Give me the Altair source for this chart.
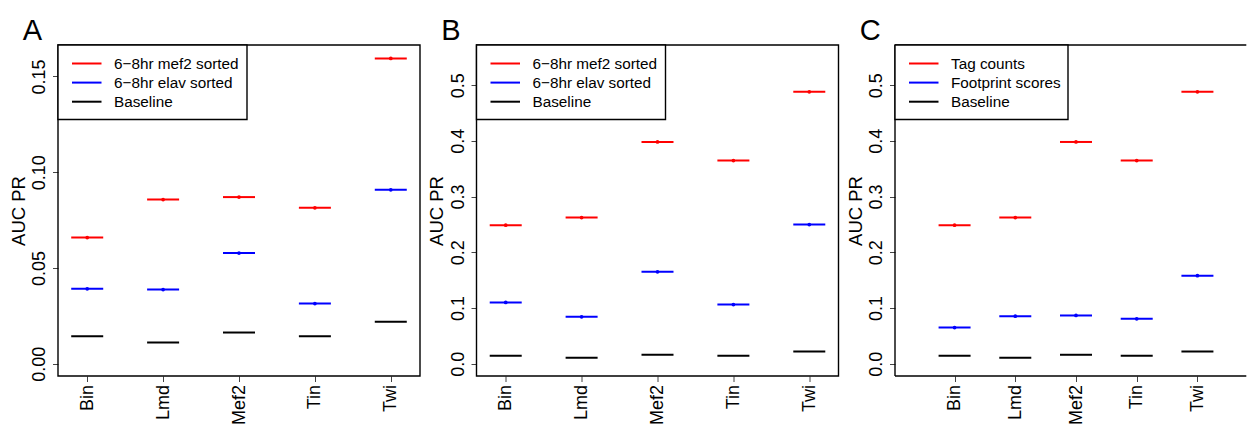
import altair as alt
import pandas as pd

categories = ["Bin", "Lmd", "Mef2", "Tin", "Twi"]

# Panel A
a_mef2 = [0.0659, 0.0857, 0.0870, 0.0814, 0.1594]
a_elav = [0.0391, 0.0387, 0.0578, 0.0314, 0.0908]
a_base = [0.0144, 0.0111, 0.0163, 0.0144, 0.0219]

# Panel B
b_mef2 = [0.2486, 0.2623, 0.3980, 0.3646, 0.4880]
b_elav = [0.1100, 0.0843, 0.1650, 0.1063, 0.2498]
b_base = [0.0143, 0.0108, 0.0161, 0.0143, 0.0220]

# Panel C
c_tag = [0.2486, 0.2623, 0.3980, 0.3646, 0.4880]
c_foot = [0.0650, 0.0854, 0.0866, 0.0807, 0.1580]
c_base = [0.0143, 0.0108, 0.0161, 0.0143, 0.0220]

ab_names = ["6\u22128hr mef2 sorted", "6\u22128hr elav sorted", "Baseline"]
c_names = ["Tag counts", "Footprint scores", "Baseline"]

a_ticks = [0.0, 0.05, 0.10, 0.15]
bc_ticks = [0.0, 0.1, 0.2, 0.3, 0.4, 0.5]

COLORS = ["#ff0000", "#0000ff", "#000000"]
FONT = "Liberation Sans"
W, H = 362, 331          # full panel plot area
W_C = 352                # visible part of the (cropped) right panel
PAD = 0.385
STEP = W / (len(categories) - 1 + 2 * PAD)
BOX_SW = 1.4


def one():
    return pd.DataFrame({"k": [1]})


def panel(letter, names, series_vals, ymax, ticks, fmt, legend_w, width, anchor=False, cropped=False):
    pad = 0.04 * ymax
    yscale = alt.Scale(domain=[-pad, ymax + pad], nice=False, zero=False)
    if cropped:
        xscale = alt.Scale(type="point",
                           range=[PAD * STEP, PAD * STEP + (len(categories) - 1) * STEP])
    else:
        xscale = alt.Scale(type="point", padding=PAD)
    xenc = alt.X(
        "cat:N", sort=categories, scale=xscale,
        axis=alt.Axis(title=None, labelAngle=270, labelAlign="right",
                      labelBaseline="middle", labelPadding=3, tickSize=5.5),
    )
    yenc = alt.Y(
        "value:Q", scale=yscale,
        axis=alt.Axis(values=ticks, format=fmt, title="AUC PR",
                      labelAngle=270, labelAlign="center", labelBaseline="bottom",
                      labelPadding=3.7, tickSize=5.5,
                      titleAngle=270, titleX=-39.7, titleY=H / 2,
                      titleAlign="center", titleBaseline="middle"),
    )
    layers = []
    for k, (vals, col) in enumerate(zip(series_vals, COLORS)):
        df = pd.DataFrame({"cat": categories, "value": vals})
        base = alt.Chart(df).encode(x=xenc, y=yenc)
        layers.append(base.mark_tick(orient="horizontal", size=32, thickness=2,
                                     color=col, opacity=1))
        if k < 2:
            layers.append(base.mark_circle(size=14, color=col, opacity=1))

    # plot box
    if cropped:
        rules = [(0, width - 0.7, 0, 0), (0, 0, 0, H), (0, width - 0.7, H, H)]
        for x1, x2, y1, y2 in rules:
            layers.append(
                alt.Chart(one()).mark_rule(color="black", strokeWidth=BOX_SW)
                .encode(x=alt.value(x1), x2=alt.value(x2), y=alt.value(y1), y2=alt.value(y2))
            )
    else:
        layers.append(
            alt.Chart(one()).mark_rect(fillOpacity=0, stroke="black", strokeWidth=BOX_SW)
            .encode(x=alt.value(0), x2=alt.value(width), y=alt.value(0), y2=alt.value(H))
        )

    # legend box
    layers.append(
        alt.Chart(one()).mark_rect(fill="white", stroke="black", strokeWidth=BOX_SW)
        .encode(x=alt.value(0), x2=alt.value(legend_w), y=alt.value(0), y2=alt.value(74.5))
    )
    for k, (name, col) in enumerate(zip(names, COLORS)):
        yy = 18.5 + 19.1 * k
        layers.append(
            alt.Chart(one()).mark_rule(color=col, strokeWidth=2)
            .encode(x=alt.value(14), x2=alt.value(43.5), y=alt.value(yy))
        )
        layers.append(
            alt.Chart(pd.DataFrame({"label": [name]}))
            .mark_text(align="left", baseline="middle", font=FONT, fontSize=15.3, color="black")
            .encode(x=alt.value(56), y=alt.value(yy), text="label:N")
        )
    # panel letter
    layers.append(
        alt.Chart(one()).mark_text(text=letter, align="left", baseline="alphabetic",
                                   font=FONT, fontSize=29, color="black")
        .encode(x=alt.value(-35.3), y=alt.value(-5))
    )
    if anchor:
        layers.append(
            alt.Chart(one()).mark_rule(strokeOpacity=0, opacity=0)
            .encode(x=alt.value(-58), x2=alt.value(-57), y=alt.value(-45))
        )
    return alt.layer(*layers).properties(width=width, height=H)


pa = panel("A", ab_names, [a_mef2, a_elav, a_base], 0.16, a_ticks, ".2f", 189, W, anchor=True)
pb = panel("B", ab_names, [b_mef2, b_elav, b_base], 0.55, bc_ticks, ".1f", 189, W)
pc = panel("C", c_names, [c_tag, c_foot, c_base], 0.55, bc_ticks, ".1f", 173, W_C, cropped=True)

chart = (
    alt.hconcat(pa, pb, pc, spacing=56.5, bounds="flush")
    .properties(padding=0, background="white")
    .configure_view(stroke=None)
    .configure_axis(labelFont=FONT, titleFont=FONT, labelFontSize=18, titleFontSize=18.5,
                    titleFontWeight="normal", labelColor="black", titleColor="black",
                    tickColor="#444", tickWidth=1, domain=False, grid=False)
)

chart.save("out.html", embed_options={"renderer": "svg", "actions": False})
